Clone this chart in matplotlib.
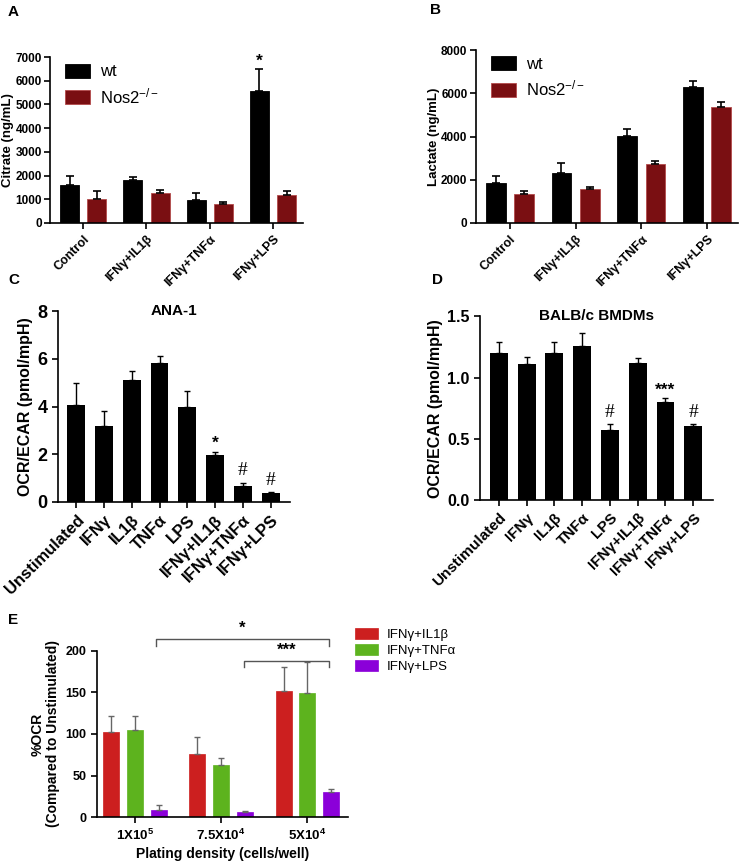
import matplotlib
matplotlib.use("Agg")
import matplotlib.pyplot as plt
import numpy as np

plt.rcParams['font.family'] = ['Liberation Sans', 'DejaVu Sans']
plt.rcParams['mathtext.fontset'] = 'custom'
plt.rcParams['mathtext.rm'] = 'Liberation Sans'
plt.rcParams['mathtext.bf'] = 'Liberation Sans:bold'
plt.rcParams['mathtext.it'] = 'Liberation Sans:italic'
plt.rcParams['axes.linewidth'] = 1.2

# ---- data ----
ab_cats = ['Control', 'IFNγ+IL1β', 'IFNγ+TNFα', 'IFNγ+LPS']
a_wt = [1600, 1800, 950, 5550]
a_wt_err = [400, 150, 320, 930]
a_nos = [1000, 1280, 780, 1180]
a_nos_err = [350, 120, 90, 150]
a_wt_marks = ['', '', '', '*']

b_wt = [1870, 2310, 4030, 6300]
b_wt_err = [290, 470, 320, 250]
b_nos = [1330, 1560, 2750, 5380]
b_nos_err = [150, 120, 120, 220]

cd_cats = ['Unstimulated', 'IFNγ', 'IL1β', 'TNFα', 'LPS',
           'IFNγ+IL1β', 'IFNγ+TNFα', 'IFNγ+LPS']
c_vals = [4.05, 3.2, 5.1, 5.82, 3.98, 1.95, 0.68, 0.37]
c_err = [0.95, 0.6, 0.4, 0.28, 0.67, 0.15, 0.12, 0.04]
c_marks = ['', '', '', '', '', '*', '#', '#']

d_vals = [1.2, 1.11, 1.2, 1.26, 0.57, 1.115, 0.80, 0.605]
d_err = [0.09, 0.06, 0.09, 0.10, 0.05, 0.045, 0.03, 0.015]
d_marks = ['', '', '', '', '#', '', '***', '#']

e_cats = ['1X10$^{\\mathbf{5}}$', '7.5X10$^{\\mathbf{4}}$', '5X10$^{\\mathbf{4}}$']
e_series = ['IFNγ+IL1β', 'IFNγ+TNFα', 'IFNγ+LPS']
e_vals = [[102, 76, 151], [105, 63, 149], [9, 6, 30]]
e_err = [[19, 20, 29], [16, 8, 37], [6, 2, 4]]
e_colors = ['#cc1f1f', '#5db31e', '#8b00d9']

BLACK = '#000000'
DRED = '#7a0f12'


def style_axes(ax, ytick_size):
    for s in ['top', 'right']:
        ax.spines[s].set_visible(False)
    ax.tick_params(axis='both', direction='out', width=1.2, length=4)
    ax.tick_params(axis='y', labelsize=ytick_size)
    for lab in ax.get_yticklabels():
        lab.set_fontweight('bold')


def place_mark(ax, x, top, mark, pad):
    if not mark:
        return
    if mark == '#':
        ax.text(x, top + pad, '#', ha='center', va='bottom',
                fontsize=14, family='Liberation Serif')
    else:
        ax.text(x, top + pad * 0.3, mark, ha='center', va='bottom',
                fontsize=12.5, fontweight='bold')


def pair_panel(ax, wt, wt_err, nos, nos_err, ymax, ystep, ylabel):
    x = np.arange(len(ab_cats))
    off, w = 0.215, 0.3
    ax.bar(x - off, wt, w, color=BLACK, edgecolor=BLACK, linewidth=0.6)
    ax.bar(x + off, nos, w, color=DRED, edgecolor='#b34a4a', linewidth=0.6)
    ax.errorbar(x - off, wt, yerr=[np.zeros(len(wt)), wt_err], fmt='none',
                ecolor=BLACK, elinewidth=1.2, capsize=3, capthick=1.2)
    ax.errorbar(x + off, nos, yerr=[np.zeros(len(nos)), nos_err], fmt='none',
                ecolor=BLACK, elinewidth=1.2, capsize=3, capthick=1.2)
    ax.set_xlim(-0.52, 3.47)
    ax.set_ylim(0, ymax)
    ax.set_yticks(np.arange(0, ymax + 1, ystep))
    ax.set_xticks(x)
    style_axes(ax, 8.5)
    ax.set_xticklabels(ab_cats, rotation=45, ha='right', rotation_mode='anchor',
                       fontweight='bold', fontsize=9)
    ax.tick_params(axis='y', pad=2)
    ax.set_ylabel(ylabel, fontsize=9.5, fontweight='bold', labelpad=1)
    ax.legend(['wt', 'Nos2$^{\\mathregular{-/-}}$'], loc='upper left',
              bbox_to_anchor=(0.0, 1.05), frameon=False, fontsize=12,
              handlelength=1.5, handleheight=0.9, handletextpad=0.6,
              labelspacing=0.4)


def single_panel(ax, vals, err, marks, ymax, yticks, title, ylabel, tick_size,
                 xtick_size, mark_pad):
    x = np.arange(len(cd_cats))
    ax.bar(x, vals, 0.64, color=BLACK)
    ax.errorbar(x, vals, yerr=[np.zeros(len(vals)), err], fmt='none',
                ecolor=BLACK, elinewidth=1.0, capsize=2.5, capthick=1.0)
    for xi, v, e, m in zip(x, vals, err, marks):
        place_mark(ax, xi, v + e, m, mark_pad)
    ax.set_xlim(-0.67, 7.7)
    ax.set_ylim(0, ymax)
    ax.set_yticks(yticks)
    ax.set_xticks(x)
    style_axes(ax, tick_size)
    ax.set_xticklabels(cd_cats, rotation=45, ha='right', rotation_mode='anchor',
                       fontweight='bold', fontsize=xtick_size)
    ax.set_ylabel(ylabel, fontsize=11.5, fontweight='bold', labelpad=3)
    ax.text(0.5, 1.0, title, transform=ax.transAxes, ha='center', va='center',
            fontsize=11, fontweight='bold')


fig = plt.figure(figsize=(7.4, 8.64), dpi=100)

# ---- A ----
axA = fig.add_axes([0.068, 0.742, 0.341, 0.192])
pair_panel(axA, a_wt, a_wt_err, a_nos, a_nos_err, 7000, 1000, 'Citrate (ng/mL)')
for xi, v, e, m in zip(np.arange(4), a_wt, a_wt_err, a_wt_marks):
    place_mark(axA, xi - 0.215, v + e, m, 100)

# ---- B ----
axB = fig.add_axes([0.643, 0.742, 0.354, 0.200])
pair_panel(axB, b_wt, b_wt_err, b_nos, b_nos_err, 8000, 2000, 'Lactate (ng/mL)')

# ---- C ----
axC = fig.add_axes([0.078, 0.419, 0.314, 0.221])
single_panel(axC, c_vals, c_err, c_marks, 8, [0, 2, 4, 6, 8], 'ANA-1',
             'OCR/ECAR (pmol/mpH)', 13, 12, 0.15)

# ---- D ----
axD = fig.add_axes([0.649, 0.421, 0.314, 0.213])
single_panel(axD, d_vals, d_err, d_marks, 1.5, [0.0, 0.5, 1.0, 1.5],
             'BALB/c BMDMs', 'OCR/ECAR (pmol/mpH)', 11.5, 11, 0.025)
axD.set_yticklabels(['0.0', '0.5', '1.0', '1.5'], fontweight='bold')

# ---- E ----
axE = fig.add_axes([0.131, 0.054, 0.339, 0.193])
xe = np.arange(len(e_cats))
off = 0.275
for i, (vals, err, col, lab) in enumerate(zip(e_vals, e_err, e_colors, e_series)):
    pos = xe + (i - 1) * off
    axE.bar(pos, vals, 0.185, color=col, edgecolor=col, linewidth=0.5, label=lab)
    axE.errorbar(pos, vals, yerr=[np.zeros(len(vals)), err], fmt='none',
                 ecolor='#666666', elinewidth=1.0, capsize=2.5, capthick=1.0)
axE.set_xlim(-0.44, 2.47)
axE.set_ylim(0, 200)
axE.set_yticks([0, 50, 100, 150, 200])
axE.set_xticks(xe)
style_axes(axE, 9)
axE.set_xticklabels(e_cats, fontweight='bold', fontsize=9.5)
axE.set_ylabel('%OCR\n(Compared to Unstimulated)', fontsize=10, fontweight='bold',
               linespacing=1.1)
axE.set_xlabel('Plating density (cells/well)', fontsize=10, fontweight='bold',
               labelpad=3)
axE.legend(loc='upper left', bbox_to_anchor=(0.98, 1.205), frameon=False,
           fontsize=9.5, handlelength=1.8, handleheight=0.9, handletextpad=0.6,
           labelspacing=0.2)

# significance brackets
br_col = '#555555'
x1, x2, x3 = 0.245, 2.25, 1.27
axE.plot([x1, x1, x2, x2], [206, 214, 214, 206], color=br_col, lw=1.0,
         clip_on=False)
axE.text((x1 + x2) / 2, 218, '*', ha='center', va='bottom', fontsize=12,
         fontweight='bold')
axE.plot([x3, x3, x2, x2], [180, 188, 188, 180], color=br_col, lw=1.0,
         clip_on=False)
axE.text((x3 + x2) / 2, 191, '***', ha='center', va='bottom', fontsize=12,
         fontweight='bold')

# panel letters
for letter, (px, py) in {'A': (8, 12), 'B': (430, 10), 'C': (8, 280),
                         'D': (432, 280), 'E': (8, 620)}.items():
    fig.text(px / 740, 1 - py / 864, letter, fontsize=11, fontweight='bold',
             ha='left', va='center')

fig.savefig('out.png', dpi=100)
